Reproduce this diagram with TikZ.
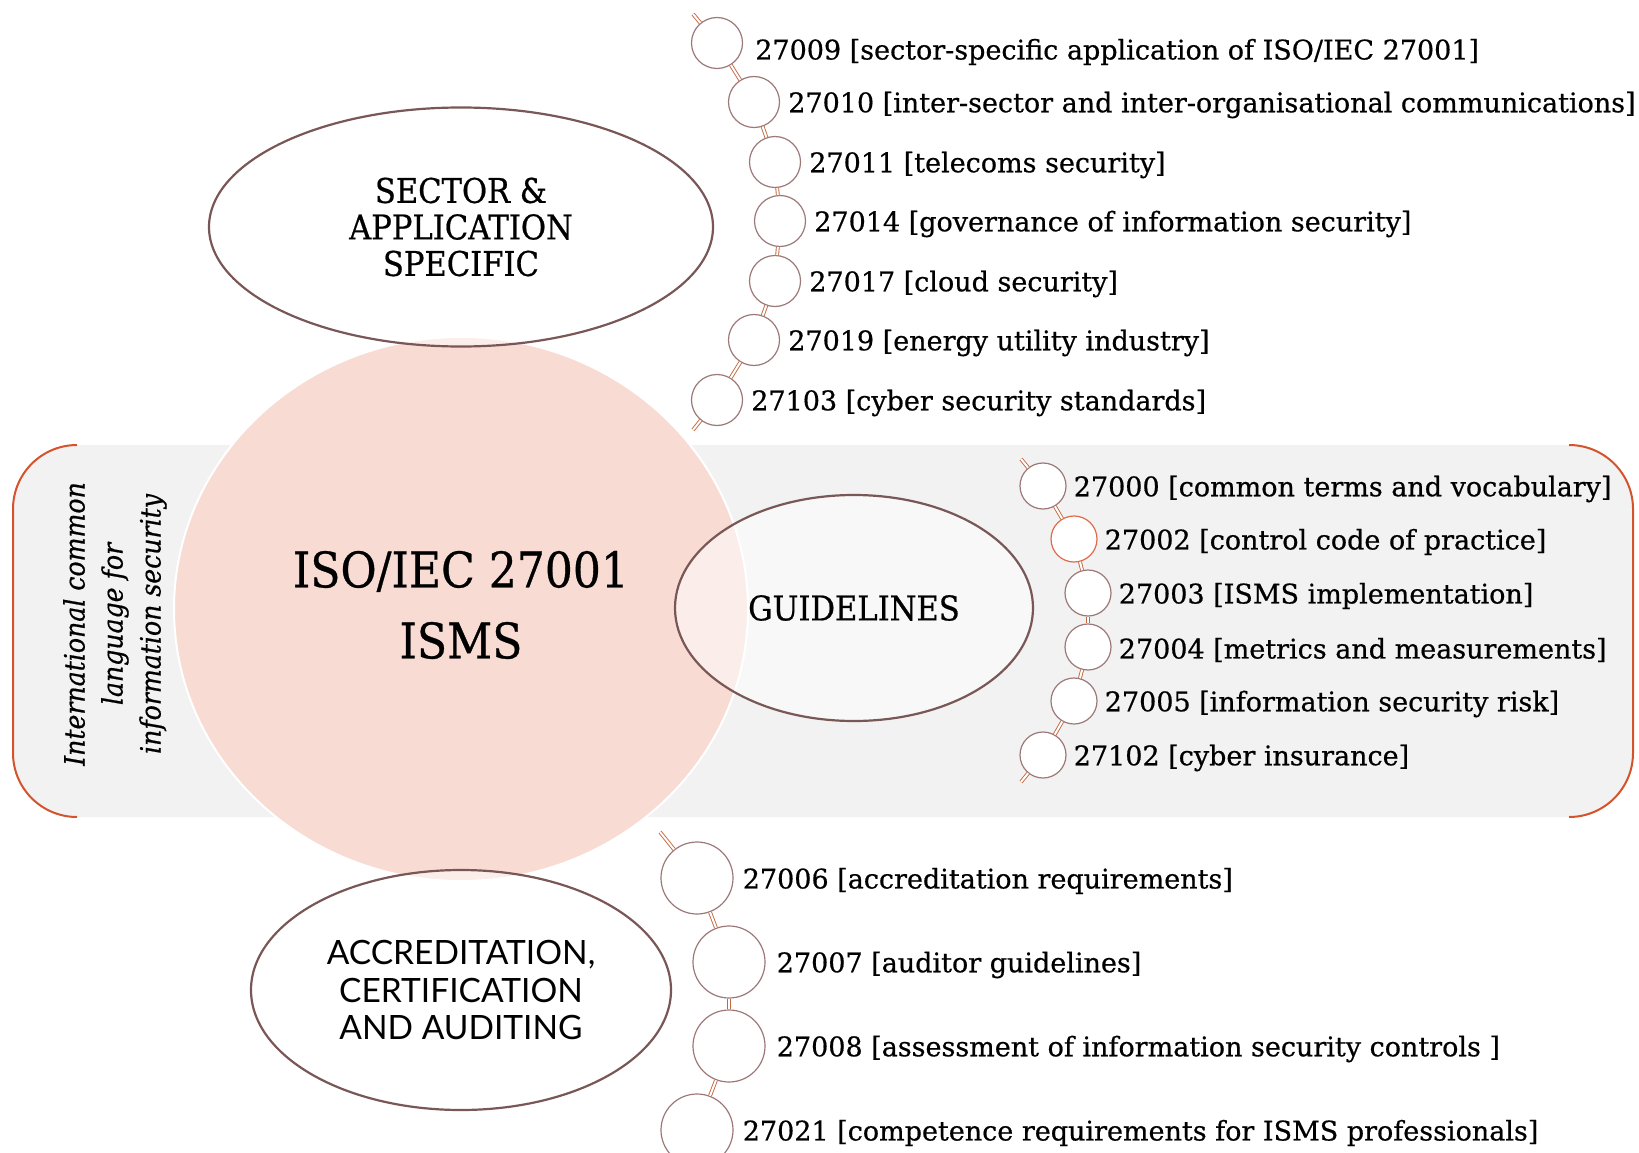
\documentclass[tikz,border=0pt]{standalone}
\usepackage{fontspec}
\setmainfont[FakeBold=0.6]{DejaVu Serif}
\newfontfamily\slabcond[FakeBold=0.6]{DejaVu Serif Condensed}
\newfontfamily\gillish{Lato}
\usetikzlibrary{shapes.geometric,positioning,calc}

\definecolor{bandgray}{HTML}{F2F2F2}
\definecolor{bracketred}{HTML}{D5532B}
\definecolor{isopink}{HTML}{F8DCD3}
\definecolor{ovalbrown}{HTML}{7A5757}
\definecolor{beadbrown}{HTML}{9C7878}
\definecolor{beadhot}{HTML}{E06A4C}
\definecolor{linkorange}{HTML}{C4673F}

\begin{document}
\begin{tikzpicture}[
    x=1pt, y=-1pt,
    oval/.style={ellipse, draw=ovalbrown, line width=2.2pt, fill=white, fill opacity=0.5, text opacity=1, align=center, inner sep=0pt, font=\slabcond\fontsize{34}{36.5}\selectfont},
    bead/.style={circle, draw=beadbrown, line width=1.2pt, fill=white, inner sep=0pt},
    topbead/.style={bead, minimum size=51pt},
    midbead/.style={bead, minimum size=46pt},
    lowbead/.style={bead, minimum size=72pt},
    link/.style={draw=linkorange, line width=0.9pt, double=white, double distance=2pt},
    item/.style={font=\fontsize{27}{30}\selectfont, inner sep=0pt, anchor=west, yshift=-3pt},
    bracket/.style={draw=bracketred, line width=2pt, rounded corners=64pt}
]
    \clip (0,0) rectangle (1639,1153);

    % grey band with the two brackets
    \fill [bandgray, rounded corners=64pt] (13,445) rectangle (1633,817);
    \draw [bracket] (77,445) -- (13,445) -- (13,817) -- (77,817);
    \draw [bracket] (1569,445) -- (1633,445) -- (1633,817) -- (1569,817);
    \node [rotate=90, align=center, font=\slabcond\itshape\fontsize{28}{38}\selectfont] (motto) at (115,624) {International common\\language for\\information security};

    % core standard
    \node [ellipse, fill=isopink, draw=white, line width=2pt, minimum width=574pt, minimum height=544pt, inner sep=0pt, align=center, font=\slabcond\fontsize{49}{71}\selectfont] (isms) at (461,609) {};
    \node [align=center, font=\slabcond\fontsize{49}{71}\selectfont] (ismstext) at (461,605) {ISO/IEC 27001\\ISMS};

    \node [oval, minimum width=504pt, minimum height=239pt] (sector) at (461,227) {SECTOR \&\\APPLICATION\\SPECIFIC};
    \node [oval, minimum width=358pt, minimum height=226pt] (guide) at (854,608) {GUIDELINES};
    \node [oval, minimum width=420pt, minimum height=240pt, font=\gillish\fontsize{33.5}{37.5}\selectfont] (audit) at (461,990) {ACCREDITATION,\\CERTIFICATION\\AND AUDITING};

    % sector chain
    \node [topbead] (b27009) at (717,43) {};
    \node [topbead] (b27010) at (754,102) {};
    \node [topbead] (b27011) at (775,162) {};
    \node [topbead] (b27014) at (780,221) {};
    \node [topbead] (b27017) at (775,281) {};
    \node [topbead] (b27019) at (754,340) {};
    \node [topbead] (b27103) at (717,400) {};
    \coordinate (sectortop) at (693,14);
    \coordinate (sectorend) at (693,430);

    \draw [link] (sectortop) -- (b27009);
    \draw [link] (b27009) -- (b27010);
    \draw [link] (b27010) -- (b27011);
    \draw [link] (b27011) -- (b27014);
    \draw [link] (b27014) -- (b27017);
    \draw [link] (b27017) -- (b27019);
    \draw [link] (b27019) -- (b27103);
    \draw [link] (b27103) -- (sectorend);

    \node [item, right=12pt of b27009, yshift=-6pt] (l27009) {27009 [sector-specific application of ISO/IEC 27001]};
    \node [item, right=8pt of b27010] (l27010) {27010 [inter-sector and inter-organisational communications]};
    \node [item, right=8pt of b27011] (l27011) {27011 [telecoms security]};
    \node [item, right=8pt of b27014] (l27014) {27014 [governance of information security]};
    \node [item, right=8pt of b27017] (l27017) {27017 [cloud security]};
    \node [item, right=8pt of b27019] (l27019) {27019 [energy utility industry]};
    \node [item, right=8pt of b27103] (l27103) {27103 [cyber security standards]};

    % guideline chain
    \node [midbead] (b27000) at (1043,486) {};
    \node [midbead, draw=beadhot] (b27002) at (1074,539) {};
    \node [midbead] (b27003) at (1088,593) {};
    \node [midbead] (b27004) at (1088,647) {};
    \node [midbead] (b27005) at (1074,701) {};
    \node [midbead] (b27102) at (1043,755) {};
    \coordinate (guidetop) at (1021,459);
    \coordinate (guideend) at (1021,782);

    \draw [link] (guidetop) -- (b27000);
    \draw [link] (b27000) -- (b27002);
    \draw [link] (b27002) -- (b27003);
    \draw [link] (b27003) -- (b27004);
    \draw [link] (b27004) -- (b27005);
    \draw [link] (b27005) -- (b27102);
    \draw [link] (b27102) -- (guideend);

    \node [item, right=7pt of b27000] (l27000) {27000 [common terms and vocabulary]};
    \node [item, right=7pt of b27002] (l27002) {27002 [control code of practice]};
    \node [item, right=7pt of b27003] (l27003) {27003 [ISMS implementation]};
    \node [item, right=7pt of b27004] (l27004) {27004 [metrics and measurements]};
    \node [item, right=7pt of b27005] (l27005) {27005 [information security risk]};
    \node [item, right=7pt of b27102] (l27102) {27102 [cyber insurance]};

    % audit chain
    \node [lowbead] (b27006) at (697,878) {};
    \node [lowbead] (b27007) at (729,962) {};
    \node [lowbead] (b27008) at (729,1046) {};
    \node [lowbead] (b27021) at (697,1130) {};
    \coordinate (audittop) at (660,832);

    \draw [link] (audittop) -- (b27006);
    \draw [link] (b27006) -- (b27007);
    \draw [link] (b27007) -- (b27008);
    \draw [link] (b27008) -- (b27021);

    \node [item, right=9pt of b27006] (l27006) {27006 [accreditation requirements]};
    \node [item, right=11pt of b27007] (l27007) {27007 [auditor guidelines]};
    \node [item, right=11pt of b27008] (l27008) {27008 [assessment of information security controls ]};
    \node [item, right=9pt of b27021] (l27021) {27021 [competence requirements for ISMS professionals]};
\end{tikzpicture}
\end{document}
